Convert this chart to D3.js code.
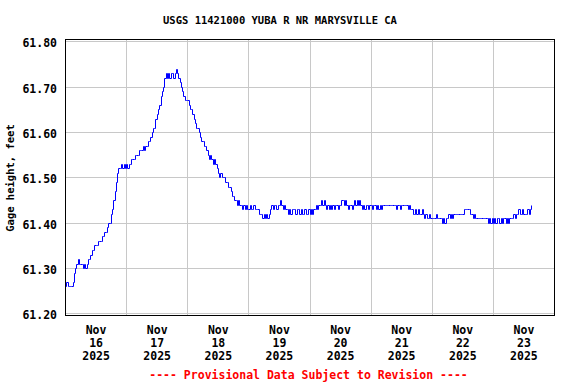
<!DOCTYPE html>
<html><head><meta charset="utf-8">
<script src="https://cdn.jsdelivr.net/npm/d3@7"></script>
<style>
html,body{margin:0;padding:0;background:#fff;}
svg{display:block;}
text{font-family:"DejaVu Sans Mono",monospace;font-weight:bold;fill:#000;}
</style></head><body>
<svg id="chart" width="576" height="384"></svg>
<script>
const title = "USGS 11421000 YUBA R NR MARYSVILLE CA";
const yLabel = "Gage height, feet";
const footer = "---- Provisional Data Subject to Revision ----";
const yTicks = [61.20, 61.30, 61.40, 61.50, 61.60, 61.70, 61.80];
const dayStarts = ["2025-11-16","2025-11-17","2025-11-18","2025-11-19","2025-11-20","2025-11-21","2025-11-22","2025-11-23","2025-11-24"];
const seriesStart = "2025-11-16T00:00:00Z";
const stepMinutes = 30;

const gageNov16 = [61.26,61.27,61.26,61.26,61.26,61.26,61.27,61.29,61.30,61.31,61.32,61.31,61.31,61.31,61.30,61.31,61.30,61.31,61.32,61.32,61.33,61.34,61.34,61.35,61.35,61.35,61.36,61.36,61.36,61.37,61.37,61.38,61.38,61.39,61.40,61.40,61.42,61.43,61.45,61.47,61.49,61.51,61.52,61.52,61.53,61.52,61.53,61.52];
const gageNov17 = [61.53,61.52,61.53,61.53,61.54,61.54,61.54,61.55,61.55,61.55,61.56,61.56,61.56,61.57,61.56,61.57,61.57,61.58,61.58,61.59,61.60,61.61,61.61,61.63,61.64,61.65,61.66,61.68,61.69,61.70,61.72,61.73,61.72,61.73,61.72,61.73,61.73,61.72,61.73,61.74,61.73,61.72,61.71,61.70,61.69,61.68,61.67,61.67];
const gageNov18 = [61.67,61.66,61.65,61.65,61.64,61.63,61.62,61.61,61.61,61.60,61.59,61.58,61.58,61.57,61.57,61.56,61.55,61.54,61.55,61.54,61.53,61.54,61.53,61.52,61.51,61.50,61.51,61.50,61.50,61.50,61.49,61.49,61.48,61.48,61.47,61.46,61.46,61.45,61.45,61.44,61.45,61.44,61.44,61.43,61.44,61.43,61.44,61.43];
const gageNov19 = [61.43,61.44,61.43,61.43,61.44,61.43,61.43,61.43,61.42,61.42,61.42,61.41,61.42,61.41,61.42,61.41,61.42,61.43,61.44,61.43,61.44,61.44,61.43,61.44,61.44,61.45,61.44,61.43,61.44,61.43,61.43,61.42,61.43,61.42,61.43,61.43,61.43,61.42,61.43,61.43,61.42,61.43,61.42,61.42,61.43,61.42,61.42,61.43];
const gageNov20 = [61.42,61.43,61.42,61.43,61.43,61.44,61.43,61.44,61.44,61.45,61.44,61.45,61.44,61.43,61.44,61.43,61.44,61.43,61.44,61.43,61.44,61.44,61.43,61.44,61.44,61.45,61.45,61.44,61.45,61.44,61.43,61.44,61.44,61.43,61.44,61.45,61.44,61.45,61.44,61.45,61.44,61.43,61.44,61.43,61.44,61.44,61.43,61.44];
const gageNov21 = [61.44,61.43,61.44,61.44,61.43,61.44,61.43,61.44,61.43,61.44,61.44,61.44,61.44,61.44,61.44,61.44,61.44,61.44,61.44,61.44,61.43,61.44,61.44,61.43,61.44,61.44,61.44,61.44,61.44,61.43,61.44,61.43,61.43,61.42,61.42,61.43,61.42,61.43,61.42,61.42,61.43,61.42,61.41,61.42,61.41,61.41,61.42,61.41];
const gageNov22 = [61.41,61.41,61.41,61.42,61.41,61.41,61.41,61.41,61.40,61.41,61.40,61.41,61.41,61.42,61.41,61.42,61.41,61.42,61.42,61.42,61.42,61.42,61.42,61.42,61.42,61.43,61.43,61.43,61.43,61.43,61.42,61.42,61.41,61.42,61.41,61.41,61.41,61.41,61.41,61.41,61.41,61.41,61.41,61.41,61.40,61.41,61.40,61.41];
const gageNov23 = [61.40,61.41,61.40,61.41,61.41,61.40,61.41,61.40,61.41,61.41,61.40,61.41,61.40,61.41,61.41,61.41,61.42,61.41,61.42,61.42,61.43,61.42,61.42,61.43,61.42,61.42,61.42,61.43,61.42,61.43,61.44];

const gage = [].concat(gageNov16, gageNov17, gageNov18, gageNov19, gageNov20, gageNov21, gageNov22, gageNov23);
const t0 = new Date(seriesStart).getTime();
const data = gage.map((v, i) => ({t: new Date(t0 + i * stepMinutes * 60000), v}));

const svg = d3.select("#chart");
const L = 65, R = 554, T = 39, B = 315;

const days = dayStarts.map(s => new Date(s + "T00:00:00Z"));
const x = d3.scaleUtc().domain([days[0], days[days.length - 1]]).range([L, R]);
const y = d3.scaleLinear().domain([61.20, 61.80]).range([313, 41]);
const px = v => Math.round(x(v)) + 0.5;
const py = v => Math.ceil(y(v) - 1e-6) + 0.5;

// grid
const gridColor = "#c8c8c8";
svg.append("g").selectAll("line").data(days.slice(1, -1)).join("line")
  .attr("x1", d => px(d)).attr("x2", d => px(d))
  .attr("y1", T).attr("y2", B)
  .attr("stroke", gridColor).attr("stroke-width", 1);
svg.append("g").selectAll("line").data(yTicks).join("line")
  .attr("x1", L).attr("x2", R)
  .attr("y1", d => py(d)).attr("y2", d => py(d))
  .attr("stroke", gridColor).attr("stroke-width", 1);

// line
const line = d3.line().x(d => px(d.t)).y(d => py(d.v)).curve(d3.curveStepAfter);
svg.append("path").datum(data).attr("d", line)
  .attr("fill", "none").attr("stroke", "#0000ff").attr("stroke-width", 1);

// frame
svg.append("rect").attr("x", L + 0.5).attr("y", T + 0.5)
  .attr("width", R - L).attr("height", B - T)
  .attr("fill", "none").attr("stroke", "#000").attr("stroke-width", 1);

// y axis labels
const yAxis = d3.axisLeft(y).tickValues(yTicks).tickSize(0).tickPadding(8).tickFormat(d3.format(".2f"));
const gy = svg.append("g").attr("transform", `translate(${L},0)`).call(yAxis);
gy.select(".domain").remove();
gy.selectAll("text").attr("font-family", "DejaVu Sans Mono").attr("font-size", "11.5px")
  .attr("font-weight", "bold").attr("fill", "#000").attr("dy", null).attr("y", 6)
  .attr("dy", null);
gy.selectAll(".tick").attr("transform", d => `translate(0,${py(d)})`);
gy.selectAll(".tick text").attr("y", 5.6);

// x axis labels at noon
const noons = days.slice(0, -1).map(d => new Date(d.getTime() + 12 * 3600000));
const xAxis = d3.axisBottom(x).tickValues(noons).tickSize(0).tickFormat("");
const gx = svg.append("g").attr("transform", `translate(0,${B})`).call(xAxis);
gx.select(".domain").remove();
const fmtM = d3.utcFormat("%b"), fmtD = d3.utcFormat("%-d"), fmtY = d3.utcFormat("%Y");
gx.selectAll(".tick text").remove();
gx.selectAll(".tick").each(function(d) {
  const t = d3.select(this).append("text").attr("text-anchor", "middle")
    .attr("font-size", "11.5px").attr("fill", "#000");
  [fmtM(d), fmtD(d), fmtY(d)].forEach((s, i) => {
    t.append("tspan").attr("x", 0).attr("y", 19 + i * 13).text(s);
  });
});

// title
svg.append("text").attr("x", 280).attr("y", 24).attr("text-anchor", "middle")
  .attr("font-size", "10.5px").text(title);
// y label
svg.append("text").attr("transform", "translate(14,178) rotate(-90)")
  .attr("text-anchor", "middle").attr("font-size", "10.5px").text(yLabel);
// footer
svg.append("text").attr("x", 308.5).attr("y", 379).attr("text-anchor", "middle")
  .attr("font-size", "11.5px").style("fill", "#ff0000").text(footer);
</script>
</body></html>
